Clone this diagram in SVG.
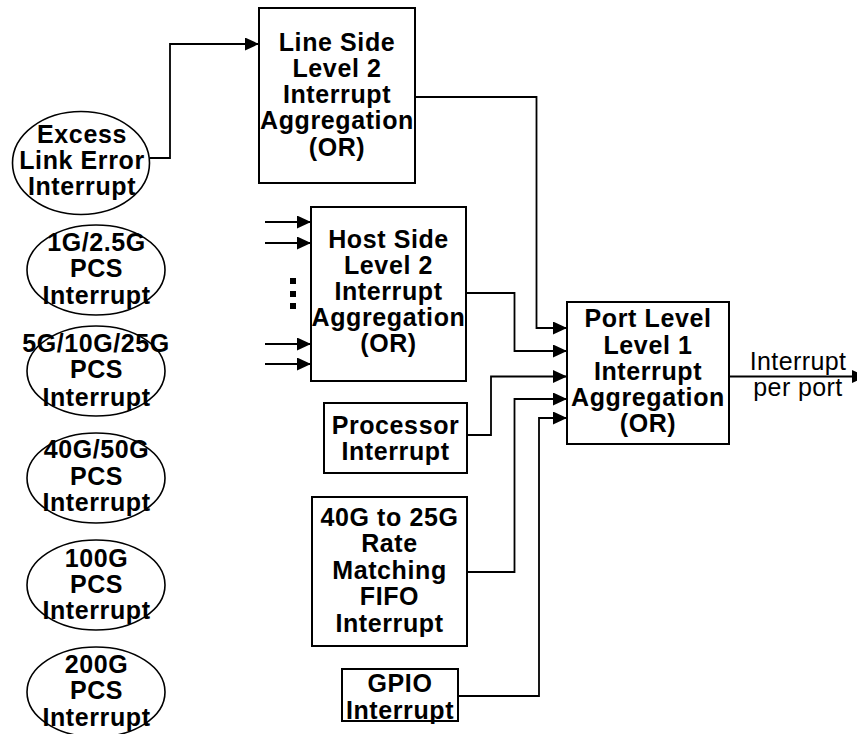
<svg xmlns="http://www.w3.org/2000/svg" width="857" height="734" viewBox="0 0 857 734">
<style>
.box{fill:#fff;stroke:#000;stroke-width:2}
.ell{fill:#fff;stroke:#000;stroke-width:1.6}
.t{font-family:"Liberation Sans",Arial,sans-serif;font-weight:bold;font-size:25px;letter-spacing:0.6px;text-anchor:middle;fill:#000}
.r{font-family:"Liberation Sans",Arial,sans-serif;font-size:25px;letter-spacing:0.4px;text-anchor:middle;fill:#000}
.c{fill:none;stroke:#000;stroke-width:1.8}
</style>
<defs>
<marker id="ah" markerUnits="userSpaceOnUse" markerWidth="15" markerHeight="14" refX="14" refY="6.5" orient="auto">
<path d="M0,0 L14,6.5 L0,13 z" fill="#000"/>
</marker>
</defs>
<rect width="857" height="734" fill="#fff"/>
<g id="connectors">
<path class="c" d="M150,158 H170 V44 H259" marker-end="url(#ah)"/>
<path class="c" d="M415,97 H536.5 V328 H567" marker-end="url(#ah)"/>
<path class="c" d="M466,293 H514.5 V351 H567" marker-end="url(#ah)"/>
<path class="c" d="M467,435 H491 V376.5 H567" marker-end="url(#ah)"/>
<path class="c" d="M467,572 H514.5 V399 H567" marker-end="url(#ah)"/>
<path class="c" d="M458,696 H539 V418 H567" marker-end="url(#ah)"/>
<path class="c" d="M265,222 H311" marker-end="url(#ah)"/>
<path class="c" d="M265,243 H311" marker-end="url(#ah)"/>
<path class="c" d="M265,344 H311" marker-end="url(#ah)"/>
<path class="c" d="M265,364 H311" marker-end="url(#ah)"/>
<path class="c" d="M729,376.5 H866" marker-end="url(#ah)"/>
<rect x="290" y="278" width="6" height="6" fill="#000"/>
<rect x="290" y="291" width="6" height="6" fill="#000"/>
<rect x="290" y="303" width="6" height="6" fill="#000"/>
<text class="r" x="798" y="369.5">Interrupt</text>
<text class="r" x="798" y="395.5">per port</text>
</g>
<g id="excess">
<ellipse class="ell" cx="81" cy="163" rx="68.5" ry="51.5"/>
<text class="t" x="82" y="143">Excess</text>
<text class="t" x="82" y="169">Link Error</text>
<text class="t" x="82" y="195">Interrupt</text>
</g>
<g id="pcs1g">
<ellipse class="ell" cx="96" cy="270" rx="69" ry="45"/>
<text class="t" x="96.5" y="250.5">1G/2.5G</text>
<text class="t" x="96.5" y="277">PCS</text>
<text class="t" x="96.5" y="304">Interrupt</text>
</g>
<g id="pcs5g">
<ellipse class="ell" cx="96" cy="371" rx="69" ry="45"/>
<text class="t" x="96" y="351.5">5G/10G/25G</text>
<text class="t" x="96.5" y="378">PCS</text>
<text class="t" x="96.5" y="405.5">Interrupt</text>
</g>
<g id="pcs40g">
<ellipse class="ell" cx="96" cy="478" rx="69" ry="45"/>
<text class="t" x="96.5" y="458">40G/50G</text>
<text class="t" x="96.5" y="484.5">PCS</text>
<text class="t" x="96.5" y="511">Interrupt</text>
</g>
<g id="pcs100g">
<ellipse class="ell" cx="96" cy="585" rx="69" ry="45"/>
<text class="t" x="96.5" y="567">100G</text>
<text class="t" x="96.5" y="592.5">PCS</text>
<text class="t" x="96.5" y="619">Interrupt</text>
</g>
<g id="pcs200g">
<ellipse class="ell" cx="96" cy="692" rx="69" ry="45"/>
<text class="t" x="96.5" y="673">200G</text>
<text class="t" x="96.5" y="699">PCS</text>
<text class="t" x="96.5" y="725.5">Interrupt</text>
</g>
<g id="lineside">
<rect class="box" x="259" y="8" width="156" height="175"/>
<text class="t" x="337" y="50.5">Line Side</text>
<text class="t" x="337" y="77">Level 2</text>
<text class="t" x="337" y="103">Interrupt</text>
<text class="t" x="337" y="129">Aggregation</text>
<text class="t" x="337" y="155.5">(OR)</text>
</g>
<g id="hostside">
<rect class="box" x="311" y="207" width="155" height="174"/>
<text class="t" x="388.5" y="248">Host Side</text>
<text class="t" x="388.5" y="274">Level 2</text>
<text class="t" x="388.5" y="300">Interrupt</text>
<text class="t" x="388.5" y="325.5">Aggregation</text>
<text class="t" x="388.5" y="352">(OR)</text>
</g>
<g id="portlevel">
<rect class="box" x="567" y="302" width="162" height="142"/>
<text class="t" x="648" y="327">Port Level</text>
<text class="t" x="648" y="353.5">Level 1</text>
<text class="t" x="648" y="379.5">Interrupt</text>
<text class="t" x="648" y="405.5">Aggregation</text>
<text class="t" x="648" y="432">(OR)</text>
</g>
<g id="processor">
<rect class="box" x="324" y="403" width="143" height="70"/>
<text class="t" x="395.5" y="433.5">Processor</text>
<text class="t" x="395.5" y="459.5">Interrupt</text>
</g>
<g id="ratefifo">
<rect class="box" x="312" y="497" width="155" height="149"/>
<text class="t" x="389.5" y="525.5">40G to 25G</text>
<text class="t" x="389.5" y="552">Rate</text>
<text class="t" x="389.5" y="578.5">Matching</text>
<text class="t" x="389.5" y="605">FIFO</text>
<text class="t" x="389.5" y="631.5">Interrupt</text>
</g>
<g id="gpio">
<rect class="box" x="342" y="669" width="116" height="52"/>
<text class="t" x="400" y="692">GPIO</text>
<text class="t" x="400" y="719">Interrupt</text>
</g>
</svg>
